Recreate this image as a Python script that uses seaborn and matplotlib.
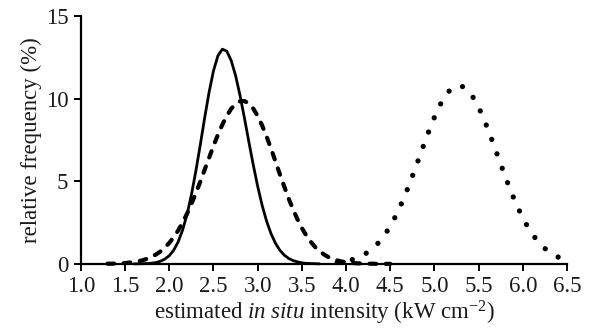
import numpy as np
import seaborn as sns
import matplotlib
matplotlib.use("Agg")
import matplotlib.pyplot as plt

# values (relative frequency, %)
solid_x = np.round(np.arange(1.60, 3.701, 0.05), 2)
solid_y = [0.00, 0.005, 0.01, 0.02, 0.04, 0.08, 0.16, 0.29,
           0.50, 0.83, 1.33, 2.04, 2.98, 4.18, 5.61, 7.19, 8.84, 10.39,
           11.69, 12.60, 13.00, 12.88, 12.31, 11.40, 10.20, 8.83, 7.39, 5.99,
           4.69, 3.55, 2.60, 1.84, 1.26, 0.83, 0.53, 0.33, 0.20, 0.12,
           0.06, 0.03, 0.02, 0.01, 0.00]

dashed_x = np.round(np.arange(1.30, 4.501, 0.05), 2)
dashed_y = [0.01, 0.01, 0.02, 0.03, 0.05, 0.08, 0.11, 0.16, 0.22, 0.31,
            0.42, 0.57, 0.75, 0.99,
            1.27, 1.62, 2.02, 2.50, 3.03, 3.63, 4.28, 4.97, 5.70, 6.42,
            7.14, 7.82, 8.43, 8.96, 9.39, 9.68, 9.84, 9.86, 9.71, 9.40,
            8.95, 8.38, 7.72, 6.99, 6.22, 5.44, 4.69, 3.96, 3.30, 2.70,
            2.17, 1.72, 1.34, 1.02, 0.77, 0.57, 0.41, 0.29, 0.21, 0.14,
            0.10, 0.07, 0.04, 0.03, 0.02, 0.01, 0.01, 0.00, 0.00, 0.00, 0.00]

dotted_x = np.round(np.arange(3.90, 6.501, 0.05), 2)
dotted_y = [0.08, 0.12,
            0.16, 0.22, 0.31, 0.41, 0.55, 0.72, 0.93, 1.18, 1.50, 1.86,
            2.29, 2.78, 3.33, 3.94, 4.60, 5.30, 6.03, 6.77, 7.51, 8.22,
            8.88, 9.48, 9.98, 10.37, 10.64, 10.78, 10.78, 10.64, 10.37, 9.98,
            9.48, 8.88, 8.22, 7.51, 6.77, 6.03, 5.30, 4.60, 3.94, 3.33,
            2.78, 2.29, 1.86, 1.50, 1.18, 0.93, 0.72, 0.55, 0.41, 0.31, 0.22]

x_ticks = [1.0, 1.5, 2.0, 2.5, 3.0, 3.5, 4.0, 4.5, 5.0, 5.5, 6.0, 6.5]
y_ticks = [0, 5, 10, 15]

sns.set_style("ticks")
plt.rcParams["font.family"] = ["Liberation Serif", "DejaVu Serif"]
plt.rcParams["mathtext.fontset"] = "custom"
plt.rcParams["mathtext.rm"] = "Liberation Serif"
plt.rcParams["mathtext.it"] = "Liberation Serif:italic"

fig, ax = plt.subplots(figsize=(5.95, 3.29), dpi=100)
fig.subplots_adjust(left=0.136, right=0.953, bottom=0.198, top=0.951)

sns.lineplot(x=solid_x, y=solid_y, ax=ax, color="black", linewidth=2.0,
             clip_on=False)
sns.lineplot(x=dashed_x, y=dashed_y, ax=ax, color="black", linewidth=3.0,
             linestyle=(0, (1.6, 2.3)), dash_capstyle="round", clip_on=False)
sns.lineplot(x=dotted_x, y=dotted_y, ax=ax, color="black", linewidth=3.8,
             linestyle=(0, (0.01, 2.9)), dash_capstyle="round", clip_on=False)

ax.set_xlim(1.0, 6.5)
ax.set_ylim(0, 15)
ax.set_xticks(x_ticks)
ax.set_xticklabels([f"{t:.1f}" for t in x_ticks])
ax.set_yticks(y_ticks)
ax.tick_params(axis="both", labelsize=16.5, length=5, width=1.4, color="black",
               labelcolor="#1a1a1a", pad=4)
for s in ["left", "bottom"]:
    ax.spines[s].set_linewidth(1.6)
    ax.spines[s].set_color("black")
sns.despine(ax=ax)

ax.set_xlabel("estimated $\\mathit{in\\ situ}$ intensity (kW cm$^{-2}$)",
              fontsize=16.5, color="#1a1a1a", labelpad=1)
ax.set_ylabel("relative frequency (%)", fontsize=16.5, color="#1a1a1a",
              labelpad=3)

fig.savefig("out.png", dpi=100)
